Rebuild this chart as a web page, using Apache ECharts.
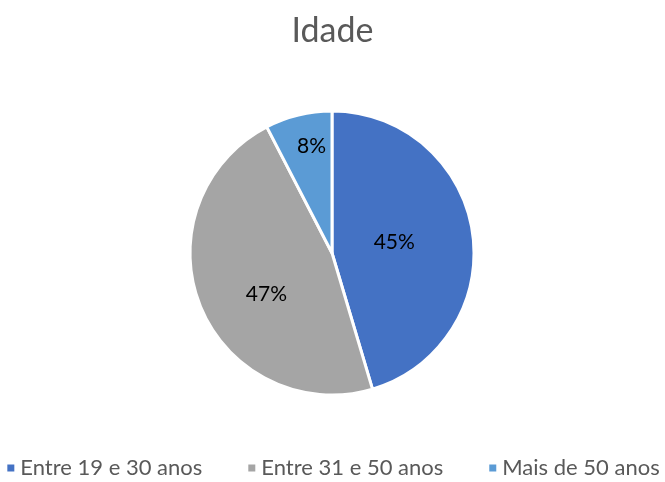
<!DOCTYPE html>
<html><head><meta charset="utf-8">
<script src="https://cdn.jsdelivr.net/npm/echarts@6/dist/echarts.min.js"></script>
<style>html,body{margin:0;padding:0;background:#fff}#c{width:665px;height:482px}</style>
</head><body><div id="c"></div>
<script>
const categories = ['Entre 19 e 30 anos', 'Entre 31 e 50 anos', 'Mais de 50 anos'];
const values = [45.4, 47.0, 7.6];
const colors = ['#4472C4', '#A5A5A5', '#5B9BD5'];
const labelShift = [[-11, 0], [3, 14], [-3, -35]];

const chart = echarts.init(document.getElementById('c'));
chart.setOption({
  animation: false,
  title: {
    text: 'Idade', left: 'center', top: 9,
    textStyle: { fontFamily: 'Lato', fontSize: 34, fontWeight: 'normal', color: '#595959' }
  },
  legend: {
    top: 457, left: 'center', icon: 'rect', itemWidth: 9, itemHeight: 9, itemGap: 44,
    padding: 0,
    textStyle: { fontFamily: 'Lato', fontSize: 22, color: '#595959' },
    data: categories
  },
  series: [{
    type: 'pie',
    center: [332, 253], radius: 142,
    startAngle: 90, clockwise: true,
    itemStyle: { borderColor: '#fff', borderWidth: 3 },
    label: {
      position: 'inside', formatter: p => Math.round(p.percent) + '%',
      fontFamily: 'Lato', fontSize: 21, color: '#000'
    },
    labelLine: { show: false },
    labelLayout: p => ({ dx: labelShift[p.dataIndex][0], dy: labelShift[p.dataIndex][1] }),
    data: categories.map((c, i) => ({ name: c, value: values[i], itemStyle: { color: colors[i] } }))
  }]
});
</script></body></html>
